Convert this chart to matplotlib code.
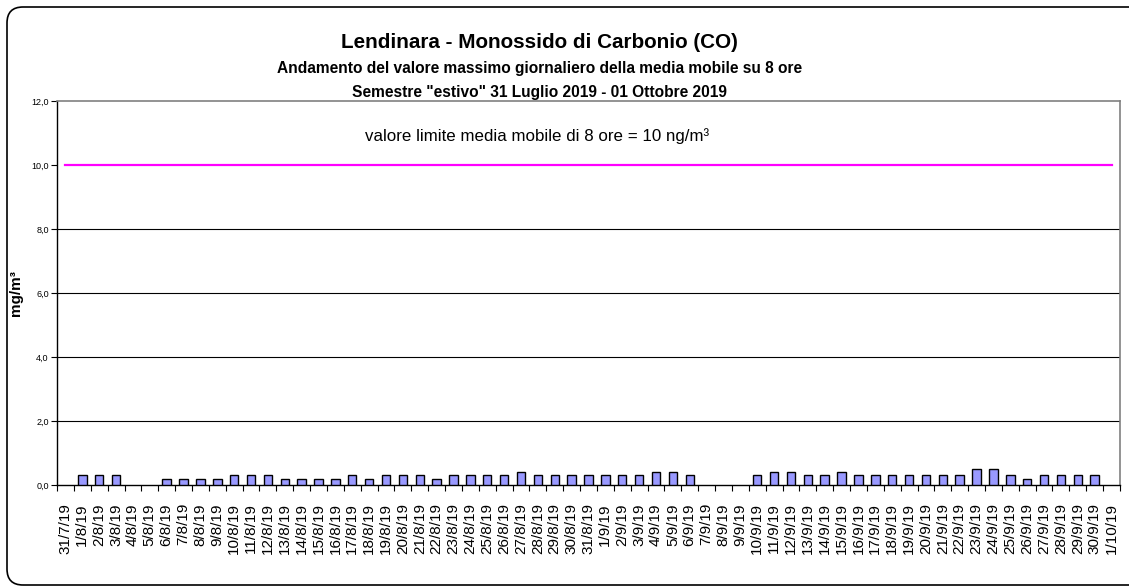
import numpy as np
import matplotlib
matplotlib.use("Agg")
import matplotlib.pyplot as plt
from matplotlib.patches import FancyBboxPatch
from matplotlib.transforms import IdentityTransform
from matplotlib.ticker import FuncFormatter

plt.rcParams['font.family'] = ['Liberation Sans', 'DejaVu Sans']

dates = ["31/7/19", "1/8/19", "2/8/19", "3/8/19", "4/8/19", "5/8/19", "6/8/19",
         "7/8/19", "8/8/19", "9/8/19", "10/8/19", "11/8/19", "12/8/19", "13/8/19",
         "14/8/19", "15/8/19", "16/8/19", "17/8/19", "18/8/19", "19/8/19", "20/8/19",
         "21/8/19", "22/8/19", "23/8/19", "24/8/19", "25/8/19", "26/8/19", "27/8/19",
         "28/8/19", "29/8/19", "30/8/19", "31/8/19", "1/9/19", "2/9/19", "3/9/19",
         "4/9/19", "5/9/19", "6/9/19", "7/9/19", "8/9/19", "9/9/19", "10/9/19",
         "11/9/19", "12/9/19", "13/9/19", "14/9/19", "15/9/19", "16/9/19", "17/9/19",
         "18/9/19", "19/9/19", "20/9/19", "21/9/19", "22/9/19", "23/9/19", "24/9/19",
         "25/9/19", "26/9/19", "27/9/19", "28/9/19", "29/9/19", "30/9/19", "1/10/19"]

# daily max of 8h moving average (mg/m3), None = no data
co_max = [None, 0.3, 0.3, 0.3, None, None, 0.2,
          0.2, 0.2, 0.2, 0.3, 0.3, 0.3, 0.2,
          0.2, 0.2, 0.2, 0.3, 0.2, 0.3, 0.3,
          0.3, 0.2, 0.3, 0.3, 0.3, 0.3, 0.4,
          0.3, 0.3, 0.3, 0.3, 0.3, 0.3, 0.3,
          0.4, 0.4, 0.3, None, None, None, 0.3,
          0.4, 0.4, 0.3, 0.3, 0.4, 0.3, 0.3,
          0.3, 0.3, 0.3, 0.3, 0.3, 0.5, 0.5,
          0.3, 0.2, 0.3, 0.3, 0.3, 0.3, None]

limit = [10.0] * len(dates)

fig = plt.figure(figsize=(11.29, 5.88), dpi=100)
ax = fig.add_axes([0.0505, 0.1752, 0.9415, 0.653])

x = np.arange(len(dates))
vals = np.array([np.nan if v is None else v for v in co_max])
ok = ~np.isnan(vals)
ax.bar(x[ok], vals[ok], width=0.5, color="#9999FF", edgecolor="#000000",
       linewidth=1.0, zorder=3)
ax.plot(x, limit, color="#FF00FF", linewidth=1.6, zorder=4)

ax.set_xlim(-0.5, len(dates) - 0.5)
ax.set_ylim(0, 12)

for g in [2, 4, 6, 8]:
    ax.axhline(g, color="#000000", linewidth=0.8, zorder=1)

ax.set_yticks(np.arange(0, 12.1, 2))
ax.yaxis.set_major_formatter(FuncFormatter(lambda v, p: ("%.1f" % v).replace(".", ",")))
ax.tick_params(axis="y", labelsize=6.5, length=4, width=0.8, pad=2)

ax.set_xticks(x)
ax.set_xticklabels(dates, rotation=90, fontsize=11)
ax.set_xticks(np.arange(-0.5, len(dates), 1), minor=True)
ax.tick_params(axis="x", which="major", length=0, pad=13)
ax.tick_params(axis="x", which="minor", length=4, width=0.8)

ax.spines["top"].set_color("#808080")
ax.spines["right"].set_color("#808080")
ax.spines["top"].set_linewidth(1.2)
ax.spines["right"].set_linewidth(1.2)
ax.spines["left"].set_linewidth(1.0)
ax.spines["bottom"].set_linewidth(1.0)

ax.set_ylabel("mg/m³", fontsize=11, fontweight="bold")
ax.yaxis.set_label_coords(-0.032, 0.5)

ax.text(0.452, 0.91, "valore limite media mobile di 8 ore = 10 ng/m³",
        transform=ax.transAxes, ha="center", va="center", fontsize=12.2)

fig.text(0.4775, 1 - 42 / 588, "Lendinara - Monossido di Carbonio (CO)",
         ha="center", va="center", fontsize=14.9, fontweight="bold")
fig.text(0.4775, 1 - 69 / 588, "Andamento del valore massimo giornaliero della media mobile su 8 ore",
         ha="center", va="center", fontsize=11.2, fontweight="bold")
fig.text(0.4775, 1 - 92 / 588, 'Semestre "estivo" 31 Luglio 2019 - 01 Ottobre 2019',
         ha="center", va="center", fontsize=11.2, fontweight="bold")

frame = FancyBboxPatch((7, 3), 1140, 578, boxstyle="round,pad=0,rounding_size=16",
                       transform=IdentityTransform(), facecolor="none",
                       edgecolor="#000000", linewidth=1.2)
fig.patches.append(frame)

fig.savefig("out.png", dpi=100)
